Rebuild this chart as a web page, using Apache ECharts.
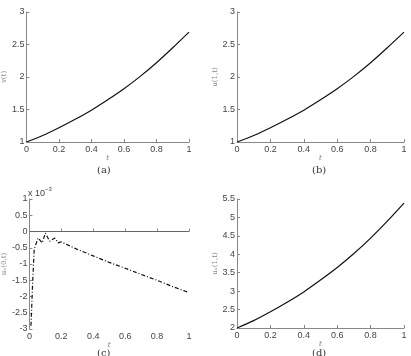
<!DOCTYPE html>
<html>
<head>
<meta charset="utf-8">
<script src="https://cdn.jsdelivr.net/npm/echarts@6/dist/echarts.min.js"></script>
<style>
  html, body { margin: 0; padding: 0; background: #fff; }
  #main { width: 411px; height: 356px; }
</style>
</head>
<body>
<div id="main"></div>
<script>
// t values shared by (a), (b), (d)
var tVals = [0, 0.1, 0.2, 0.3, 0.4, 0.5, 0.6, 0.7, 0.8, 0.9, 1.0];
// (a) v(t)
var vVals = [1, 1.1, 1.22, 1.35, 1.49, 1.65, 1.82, 2.01, 2.22, 2.45, 2.69];
// (b) u(1,t)
var uVals = [1, 1.1, 1.22, 1.35, 1.49, 1.65, 1.82, 2.01, 2.22, 2.45, 2.69];
// (d) u_x(1,t)
var uxVals = [2, 2.2, 2.44, 2.7, 2.98, 3.3, 3.64, 4.02, 4.44, 4.9, 5.39];
// (c) u_x(0,t), units of 1e-3
var tC = [0.01, 0.02, 0.03, 0.04, 0.055, 0.08, 0.1, 0.127, 0.16, 0.18, 0.2, 0.3, 0.4, 0.5, 0.6, 0.7, 0.8, 0.9, 1.0];
var cVals = [-2.9, -1.6, -0.55, -0.4, -0.2, -0.35, -0.05, -0.3, -0.2, -0.35, -0.32, -0.55, -0.75, -0.95, -1.13, -1.32, -1.5, -1.7, -1.88];

function pairs(xs, ys) {
  return xs.map(function (x, i) { return [x, ys[i]]; });
}

var axisColor = '#888';
var labelColor = '#444';
var tickFont = 'Liberation Sans';

function xAx(idx) {
  return {
    type: 'value', gridIndex: idx, min: 0, max: 1, interval: 0.2,
    name: 't', nameLocation: 'middle', nameGap: 12,
    nameTextStyle: { fontSize: 7, color: '#777', fontStyle: 'italic', fontFamily: 'DejaVu Serif' },
    axisLine: { lineStyle: { color: axisColor } },
    axisTick: { inside: true, length: 3, lineStyle: { color: axisColor } },
    axisLabel: { fontSize: 9, color: labelColor, margin: 3, fontFamily: tickFont },
    splitLine: { show: false }
  };
}
function yAx(idx, mn, mx, nm) {
  return {
    type: 'value', gridIndex: idx, min: mn, max: mx, interval: 0.5,
    name: nm, nameLocation: 'middle', nameGap: 15, nameRotate: 90,
    nameTextStyle: { fontSize: 7, color: '#888', fontFamily: 'DejaVu Serif' },
    axisLine: { show: true, lineStyle: { color: axisColor } },
    axisTick: { show: true, inside: true, length: 3, lineStyle: { color: axisColor } },
    axisLabel: { fontSize: 9, color: labelColor, margin: 2, fontFamily: tickFont },
    splitLine: { show: false }
  };
}
function lineS(idx, data, type, smooth) {
  return {
    type: 'line', xAxisIndex: idx, yAxisIndex: idx, data: data,
    showSymbol: false, smooth: smooth || false,
    lineStyle: { color: '#111', width: 1.2, type: type || 'solid' }
  };
}

var option = {
  backgroundColor: '#fff',
  animation: false,
  grid: [
    { left: 22, width: 167, top: 12, height: 130 },
    { left: 237, width: 167, top: 12, height: 130 },
    { left: 23, width: 166, top: 199, height: 130 },
    { left: 237, width: 167, top: 199, height: 129 }
  ],
  xAxis: [xAx(0), xAx(1), xAx(2), xAx(3)],
  yAxis: [
    yAx(0, 1, 3, 'v(t)'),
    yAx(1, 1, 3, 'u(1,t)'),
    yAx(2, -3, 1, 'uₓ(0,t)'),
    yAx(3, 2, 5.5, 'uₓ(1,t)')
  ],
  series: [
    lineS(0, pairs(tVals, vVals), 'solid', 0.3),
    lineS(1, pairs(tVals, uVals), 'solid', 0.3),
    // zero line in (c)
    {
      type: 'line', xAxisIndex: 2, yAxisIndex: 2, data: [[0, 0], [1, 0]],
      showSymbol: false, lineStyle: { color: '#666', width: 1 }
    },
    lineS(2, pairs(tC, cVals), [4, 2, 1, 2]),
    lineS(3, pairs(tVals, uxVals), 'solid', 0.3)
  ],
  graphic: [
    { type: 'text', left: 28, top: 189, style: { text: 'x 10', fontSize: 9, fill: labelColor, fontFamily: tickFont } },
    { type: 'text', left: 45, top: 186, style: { text: '−3', fontSize: 6, fill: labelColor, fontFamily: tickFont } },
    { type: 'text', left: 97, top: 165, style: { text: '(a)', fontSize: 10, fill: '#333', fontFamily: 'DejaVu Serif' } },
    { type: 'text', left: 312, top: 165, style: { text: '(b)', fontSize: 10, fill: '#333', fontFamily: 'DejaVu Serif' } },
    { type: 'text', left: 97, top: 348, style: { text: '(c)', fontSize: 10, fill: '#333', fontFamily: 'DejaVu Serif' } },
    { type: 'text', left: 312, top: 348, style: { text: '(d)', fontSize: 10, fill: '#333', fontFamily: 'DejaVu Serif' } }
  ]
};

var myChart = echarts.init(document.getElementById('main'));
myChart.setOption(option);
</script>
</body>
</html>
